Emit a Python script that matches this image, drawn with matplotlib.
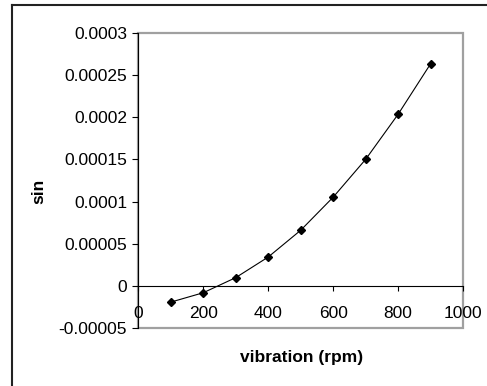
import matplotlib
matplotlib.use('Agg')
import matplotlib.pyplot as plt
from matplotlib.patches import Rectangle
from matplotlib.lines import Line2D

# data
rpm = [100, 200, 300, 400, 500, 600, 700, 800, 900]
sin_vals = [-0.000019, -0.0000079, 0.0000100, 0.0000344, 0.0000661,
            0.0001053, 0.0001501, 0.0002035, 0.0002633]

x_ticks = [0, 200, 400, 600, 800, 1000]
y_ticks = [-0.00005, 0, 0.00005, 0.0001, 0.00015, 0.0002, 0.00025, 0.0003]
y_tick_labels = ['-0.00005', '0', '0.00005', '0.0001', '0.00015',
                 '0.0002', '0.00025', '0.0003']

plt.rcParams['font.family'] = ['Liberation Sans', 'DejaVu Sans']

fig = plt.figure(figsize=(4.87, 3.86), dpi=100)
ax = fig.add_axes([0.284, 0.1495, 0.667, 0.7658])

ax.plot(rpm, sin_vals, color='black', linewidth=0.8, marker='D',
        markersize=3.8, markerfacecolor='black', markeredgecolor='black')

ax.set_xlim(0, 1000)
ax.set_ylim(-0.00005, 0.0003)
ax.set_xticks(x_ticks)
ax.set_yticks(y_ticks)
ax.set_yticklabels(y_tick_labels)

# plot area frame (grey) and axes crossing at zero (black)
ax.add_patch(Rectangle((0, 0), 1, 1, transform=ax.transAxes, fill=False,
                       edgecolor='#a0a0a0', linewidth=1.6, clip_on=False, zorder=0))
ax.spines['top'].set_visible(False)
ax.spines['right'].set_visible(False)
ax.spines['bottom'].set_position(('data', 0))
ax.spines['bottom'].set_linewidth(0.8)
ax.spines['left'].set_linewidth(0.8)

ax.tick_params(axis='x', direction='out', length=3.5, width=0.8, pad=10.5, labelsize=12.5)
ax.tick_params(axis='y', direction='out', length=4, width=0.8, pad=4, labelsize=12.5)

fig.text(0.6187, 0.075, 'vibration (rpm)', ha='center', va='center',
         fontsize=12.5, fontweight='bold')
fig.text(0.08, 0.503, 'sin', ha='center', va='center', rotation=90,
         fontsize=12.5, fontweight='bold')

# outer chart border (only top and left visible in the crop)
fig.add_artist(Line2D([12 / 487, 1], [1 - 5 / 386, 1 - 5 / 386],
                      transform=fig.transFigure, color='#222222', linewidth=1.5))
fig.add_artist(Line2D([12 / 487, 12 / 487], [0, 1 - 5 / 386],
                      transform=fig.transFigure, color='#222222', linewidth=1.5))

fig.savefig('out.png', dpi=100)
